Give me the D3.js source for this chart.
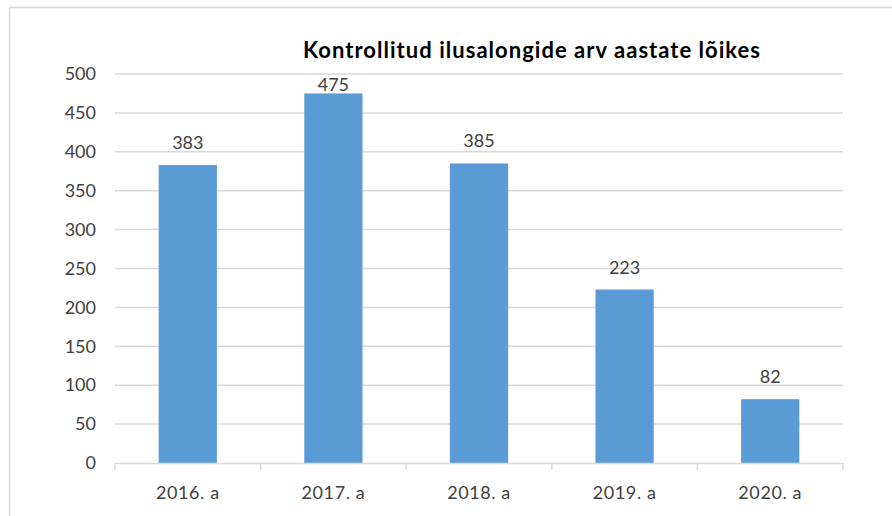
<!DOCTYPE html>
<html><head><meta charset="utf-8">
<script src="https://cdn.jsdelivr.net/npm/d3@7"></script>
<style>body{margin:0;background:#fff}svg{display:block}</style>
</head><body>
<script>
const categories = ["2016. a","2017. a","2018. a","2019. a","2020. a"];
const values = [383,475,385,223,82];
const yTicks = [0,50,100,150,200,250,300,350,400,450,500];
const title = "Kontrollitud ilusalongide arv aastate lõikes";

const W=892,H=516;
const svg=d3.select("body").append("svg").attr("width",W).attr("height",H);
const font="Lato, 'Open Sans', sans-serif";

// chart border
svg.append("path").attr("d",`M9.5,${H+2} V7.5 H${W+2}`).attr("fill","none").attr("stroke","#d9d9d9").attr("stroke-width",1.5);

const x=d3.scaleBand().domain(categories).range([115,843]).paddingInner(0.6).paddingOuter(0.3);
const y=d3.scaleLinear().domain([0,500]).range([463,74]);

// grid
svg.append("g").selectAll("line").data(yTicks.filter(d=>d>0)).join("line")
  .attr("x1",115).attr("x2",843).attr("y1",d=>y(d)).attr("y2",d=>y(d))
  .attr("stroke","#d9d9d9").attr("stroke-width",1.5);

// y axis labels
const ya=svg.append("g").attr("transform","translate(115,0)")
  .call(d3.axisLeft(y).tickValues(yTicks).tickSize(0).tickPadding(19));
ya.select(".domain").remove();
ya.selectAll("text").attr("font-family",font).attr("font-size",18).attr("fill","#404040");

// bars
svg.append("g").selectAll("rect").data(values).join("rect")
  .attr("x",(d,i)=>x(categories[i])).attr("width",x.bandwidth())
  .attr("y",d=>y(d)).attr("height",d=>y(0)-y(d)).attr("fill","#5b9bd5");

// x axis
const xa=svg.append("g").attr("transform","translate(0,463)")
  .call(d3.axisBottom(x).tickSize(0).tickPadding(23));
xa.select(".domain").attr("stroke","#d9d9d9").attr("stroke-width",1.5);
xa.selectAll("text").attr("font-family",font).attr("font-size",18).attr("fill","#404040").attr("letter-spacing",0.6);
const bounds=d3.range(categories.length+1).map(i=>115+i*(843-115)/categories.length);
svg.append("g").selectAll("line").data(bounds).join("line")
  .attr("x1",d=>d).attr("x2",d=>d).attr("y1",463).attr("y2",470)
  .attr("stroke","#d9d9d9").attr("stroke-width",1.5);

// data labels (kept inside plot area, like the reference)
const labelMinBaseline = y(500) + 17;
svg.append("g").selectAll("text").data(values).join("text")
  .attr("x",(d,i)=>x(categories[i])+x.bandwidth()/2).attr("y",d=>Math.max(y(d)-16, labelMinBaseline))
  .attr("text-anchor","middle").attr("font-family",font).attr("font-size",18).attr("fill","#404040")
  .text(d=>d);

// title
svg.append("text").attr("x",303).attr("y",58)
  .attr("font-family",font).attr("font-weight","bold").attr("font-size",22).attr("fill","#000")
  .attr("textLength",457).attr("lengthAdjust","spacing")
  .text(title);
</script>
</body></html>
